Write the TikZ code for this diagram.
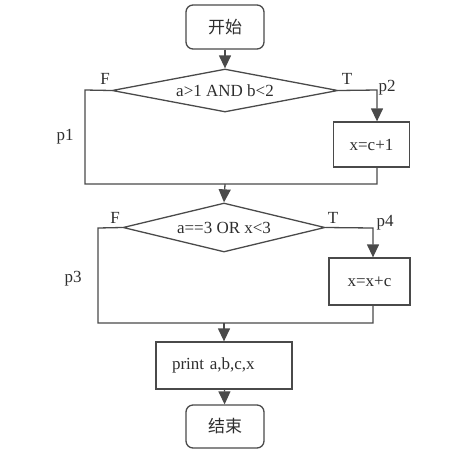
\documentclass[tikz,border=0pt]{standalone}
\usepackage{fontspec}
\setmainfont{Liberation Serif}
\newfontfamily\cjk{Noto Sans CJK SC}
\usetikzlibrary{arrows.meta,shapes.geometric}
\definecolor{flowgray}{HTML}{4A4A4A}
\definecolor{inkgray}{HTML}{2E2E2E}

\begin{document}
\begin{tikzpicture}[
    x=1pt, y=-1pt,
    every node/.style={text=inkgray, font=\fontsize{17}{20}\selectfont},
    flow/.style={draw=flowgray, line width=1.3pt},
    arrowline/.style={flow, -{Triangle[width=12pt,length=13pt]}},
    terminal/.style={flow, rounded corners=7pt, minimum width=78pt, minimum height=44pt, inner sep=0pt},
    decision/.style={flow, diamond, aspect=5, inner sep=0pt},
    process/.style={flow, rectangle, inner sep=0pt}
]

    \useasboundingbox (0,0) rectangle (462,461);

    % boxes
    \node[terminal] (start) at (225,27) {\cjk 开始};
    \node[decision, minimum width=226pt, minimum height=43pt] (d1) at (225,90.5) {a>1 AND b<2};
    \node[process, minimum width=76pt, minimum height=45pt] (b1) at (371.5,144.5) {x=c+1};
    \node[decision, minimum width=202pt, minimum height=49pt] (d2) at (224,227.5) {a==3 OR x<3};
    \node[process, minimum width=81pt, minimum height=47pt] (b2) at (369.5,281.5) {x=x+c};
    \node[process, minimum height=47pt, text width=104pt, inner xsep=16pt, align=left] (pr) at (224,365.5) {print a,b,c,x};
    \node[terminal, minimum height=43pt] (end) at (225,426.5) {\cjk 结束};

    \coordinate (f1) at (85,90);
    \coordinate (t1) at (377,90);
    \coordinate (j1) at (225,184);
    \coordinate (f2) at (98,228);
    \coordinate (t2) at (373,228);
    \coordinate (j2) at (224,323);

    % first decision
    \draw[arrowline] (start) -- (d1.north);
    \draw[arrowline] (d1.east) -- (t1) -- (t1 |- b1.north);
    \draw[flow] (d1.west) -- (f1) |- (j1) -| (t1 |- b1.south);

    % second decision
    \draw[arrowline] (j1) -- (d2.north);
    \draw[arrowline] (d2.east) -- (t2) -- (t2 |- b2.north);
    \draw[flow] (d2.west) -- (f2) |- (j2) -| (t2 |- b2.south);

    \draw[arrowline] (j2) -- (pr.north);
    \draw[arrowline] (pr) -- (end);

    % path labels
    \node (lF1) at (105,79) {F};
    \node (lT1) at (347,79) {T};
    \node (lp2) at (387,88) {p2};
    \node (lp1) at (65,137) {p1};
    \node (lF2) at (115,218) {F};
    \node (lT2) at (333,218) {T};
    \node (lp4) at (385,223) {p4};
    \node (lp3) at (73,279) {p3};

\end{tikzpicture}
\end{document}
